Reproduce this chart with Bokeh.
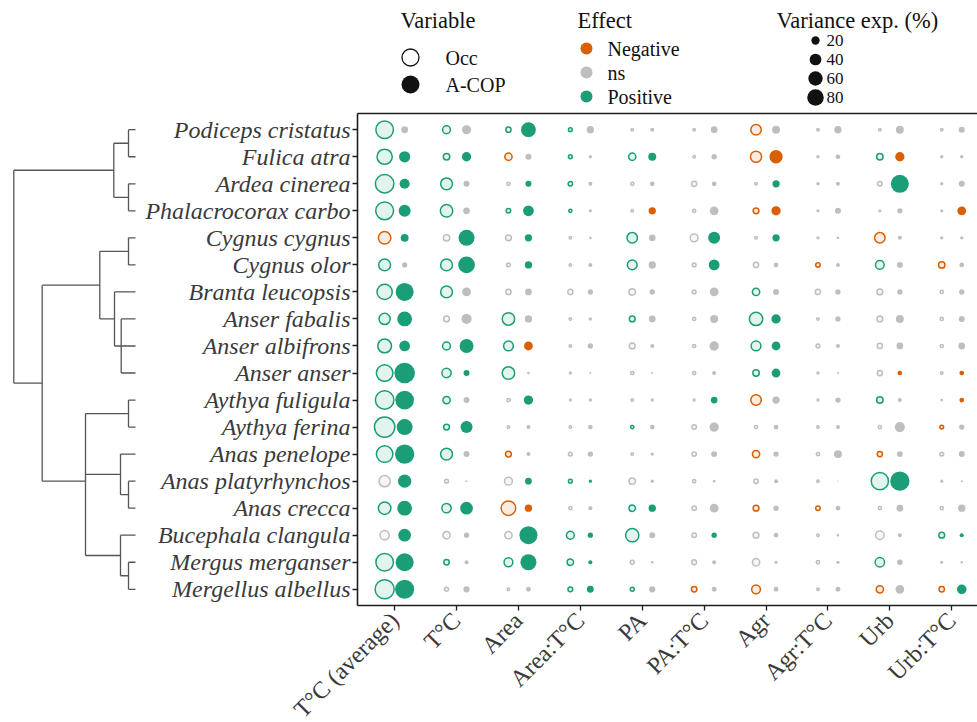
from math import pi, sqrt
from bokeh.plotting import figure
from bokeh.models import ColumnDataSource, Range1d, FixedTicker, LinearAxis
from bokeh.layouts import column, row
from bokeh.embed import file_html
from bokeh.resources import INLINE
from bokeh.core.properties import value

# ---------------- data ----------------
species = ["Podiceps cristatus", "Fulica atra", "Ardea cinerea", "Phalacrocorax carbo",
           "Cygnus cygnus", "Cygnus olor", "Branta leucopsis", "Anser fabalis",
           "Anser albifrons", "Anser anser", "Aythya fuligula", "Aythya ferina",
           "Anas penelope", "Anas platyrhynchos", "Anas crecca", "Bucephala clangula",
           "Mergus merganser", "Mergellus albellus"]
variables = ["T°C (average)", "T°C", "Area", "Area:T°C", "PA", "PA:T°C",
             "Agr", "Agr:T°C", "Urb", "Urb:T°C"]

# effect codes per variable: P = Positive, N = Negative, n = ns
occ_effect = ["PPPPnnNnnn", "PPNPPnNnPn", "PPnPnnnnnn", "PPPPnnNnnn", "NnnnPnnnNn",
              "PPnnPnnNPN", "PPnnnnPnnn", "PnPnPnPnnn", "PPPnnnPnnn", "PPPnnnPnnn",
              "PPnnnnNnPn", "PPnnPnnnnN", "PPNnnnNnNn", "nnnPnnnnPn", "PPNnPnNNnn",
              "nnnPPnnnnP", "PPPPnnnnPn", "PnnPPNNnNN"]
acop_effect = ["nnPnnnnnnn", "PPnnPnNnNn", "PnPnnnPnPn", "PnPnNnNnnN", "PPPnnPPnnn",
               "nPPnnPnnnn", "Pnnnnnnnnn", "PnnnnnPnnn", "PPNnnnPnnn", "PPnnnnPnNN",
               "PnPnnPnnnN", "PPnnnnnnnn", "Pnnnnnnnnn", "PnPPnnnnPn", "PPNnPnnnnn",
               "PnPPnPnnnP", "PnPPnnnnnn", "PnnPnnnnnP"]

# variance explained (%), read against the size legend
occ_var = [
    [106, 25.5, 13.2, 8.2, 4.7, 4.7, 42, 4.7, 4.7, 4.7],
    [82, 18.4, 22.6, 8.2, 22.6, 4.7, 47, 3.3, 18.4, 3.3],
    [117, 52, 6.5, 10.5, 6.5, 13.2, 4.7, 3.3, 10.5, 3.3],
    [109, 57, 10.5, 6.5, 4.7, 6.5, 15.6, 3.3, 3.3, 3.3],
    [57, 18.4, 15.6, 4.7, 42, 25.5, 4.7, 3.3, 42, 3.3],
    [52, 52, 8.2, 4.7, 37, 8.2, 13.2, 10.5, 30, 18.4],
    [82, 52, 13.2, 13.2, 18.4, 8.2, 22.6, 13.2, 15.6, 6.5],
    [47, 15.6, 57, 4.7, 15.6, 6.5, 64, 4.7, 15.6, 6.5],
    [68, 25.5, 37, 4.7, 15.6, 6.5, 37, 8.2, 13.2, 6.5],
    [95, 34, 57, 3.3, 6.5, 6.5, 18.4, 3.3, 13.2, 4.7],
    [117, 22.6, 6.5, 3.3, 4.7, 3.3, 42, 3.3, 18.4, 2.1],
    [139, 15.6, 4.7, 4.7, 6.5, 10.5, 6.5, 4.7, 6.5, 8.2],
    [95, 52, 15.6, 8.2, 4.7, 10.5, 22.6, 6.5, 13.2, 8.2],
    [47, 8.2, 25.5, 8.2, 18.4, 6.5, 10.5, 4.7, 102, 3.3],
    [57, 34, 75, 6.5, 18.4, 10.5, 15.6, 10.5, 6.5, 6.5],
    [34, 22.6, 22.6, 25.5, 64, 10.5, 15.6, 4.7, 30, 15.6],
    [106, 14, 31, 18.4, 8.9, 11.6, 22.6, 6.8, 35, 3],
    [124, 8.9, 4.7, 11.6, 8.9, 14, 31, 4.7, 22.6, 14],
]
acop_var = [
    [14, 24, 64, 15.6, 4.7, 13.2, 18.4, 15.6, 18.4, 10.5],
    [37, 25.5, 10.5, 3.3, 18.4, 8.2, 52, 6.5, 25.5, 3.3],
    [30, 10.5, 10.5, 4.7, 6.5, 6.5, 15.6, 4.7, 95, 10.5],
    [42, 13.2, 34, 3.3, 15.6, 22.6, 25.5, 10.5, 8.2, 22.6],
    [18.4, 75, 15.6, 2.1, 13.2, 42, 15.6, 2.1, 4.7, 3.3],
    [8.2, 82, 15.6, 4.7, 15.6, 34, 6.5, 4.7, 10.5, 6.5],
    [95, 22.6, 13.2, 8.2, 8.2, 22.6, 10.5, 8.2, 8.2, 8.2],
    [64, 30, 15.6, 3.3, 13.2, 18.4, 25.5, 8.2, 18.4, 10.5],
    [34, 57, 22.6, 8.2, 4.7, 25.5, 22.6, 4.7, 13.2, 13.2],
    [124, 10.5, 2.1, 1.1, 1.1, 4.7, 22.6, 1.1, 6.5, 6.5],
    [102, 10.5, 25.5, 3.3, 3.3, 13.2, 15.6, 8.2, 4.7, 6.5],
    [75, 42, 4.7, 6.5, 6.5, 25.5, 6.5, 4.7, 30, 8.2],
    [109, 10.5, 4.7, 8.2, 3.3, 10.5, 8.2, 18.4, 10.5, 10.5],
    [52, 1.1, 13.2, 3.3, 3.3, 2.1, 4.7, 0.4, 109, 1.1],
    [64, 47, 15.6, 4.7, 15.6, 22.6, 8.2, 6.5, 13.2, 15.6],
    [47, 8.2, 95, 8.2, 10.5, 8.2, 6.5, 2.1, 4.7, 4.7],
    [95, 4.7, 75, 4.7, 1.7, 4.7, 3, 3, 8.9, 1.7],
    [106, 11.6, 6.8, 14, 11.6, 6.8, 6.8, 6.8, 22.6, 27],
]

# dendrogram: [height, children]; leaves are species names
tree = [121.7, [
    [21.7, [[7, ["Podiceps cristatus", "Fulica atra"]],
            [7, ["Ardea cinerea", "Phalacrocorax carbo"]]]],
    [93.3, [
        [35.7, [[7, ["Cygnus cygnus", "Cygnus olor"]],
                [21, ["Branta leucopsis",
                      [14.3, ["Anser fabalis", "Anser albifrons", "Anser anser"]]]]]],
        [50, [[7, ["Aythya fuligula", "Aythya ferina"]],
              [15, ["Anas penelope", [7, ["Anas platyrhynchos", "Anas crecca"]]]],
              [15, ["Bucephala clangula", [7, ["Mergus merganser", "Mergellus albellus"]]]]]]]]]]

legend_sizes = [20, 40, 60, 80]
legend_titles = ["Variable", "Effect", "Variance exp. (%)"]
variable_keys = ["Occ", "A-COP"]

# ---------------- styling ----------------
effect_colors = {"N": "#D95F02", "n": "#BEBEBE", "P": "#1B9E77"}
effect_names = [("N", "Negative"), ("n", "ns"), ("P", "Positive")]
SERIF = "Liberation Serif"
TXT = "#3a3a3a"
SCALE = 1.85     # px diameter per sqrt(%)
OCC_LW = 1.5
DODGE = 0.1616


def diam(v):
    return SCALE * sqrt(v)


# ---------------- main bubble panel ----------------
occ = dict(x=[], y=[], size=[], color=[])
acop = dict(x=[], y=[], size=[], color=[])
for i in range(len(species)):
    for j in range(len(variables)):
        occ["x"].append(j - DODGE)
        occ["y"].append(i)
        occ["size"].append(max(diam(occ_var[i][j]) - OCC_LW, 1.0))
        occ["color"].append(effect_colors[occ_effect[i][j]])
        acop["x"].append(j + DODGE)
        acop["y"].append(i)
        acop["size"].append(diam(acop_var[i][j]))
        acop["color"].append(effect_colors[acop_effect[i][j]])

y_range = Range1d(len(species) - 0.4, -0.6)
p = figure(frame_width=620, frame_height=492,
           x_range=Range1d(-0.6, 9.416), y_range=y_range,
           output_backend="svg", toolbar_location=None,
           min_border_left=219, min_border_right=0, min_border_top=5, min_border_bottom=0)
p.outline_line_color = None
p.grid.visible = False
p.background_fill_color = "white"

p.scatter("x", "y", source=ColumnDataSource(occ), size="size", marker="circle",
          line_color="color", fill_color="color", fill_alpha=0.12, line_width=OCC_LW)
p.scatter("x", "y", source=ColumnDataSource(acop), size="size", marker="circle",
          line_color=None, fill_color="color")

for ax in (p.xaxis[0], p.yaxis[0]):
    ax.axis_line_color = "#1e1e1e"
    ax.axis_line_width = 1.6
    ax.major_tick_line_color = "#1e1e1e"
    ax.major_tick_line_width = 1.3
    ax.major_tick_in = 0
    ax.major_tick_out = 5
    ax.minor_tick_line_color = None
    ax.major_label_text_font = SERIF
    ax.major_label_text_color = TXT

p.xaxis.ticker = FixedTicker(ticks=list(range(len(variables))))
p.xaxis.major_label_overrides = {i: v for i, v in enumerate(variables)}
p.xaxis.major_label_orientation = pi / 4
p.xaxis.major_label_text_font_size = "24px"
p.xaxis.major_label_standoff = 6

p.yaxis.ticker = FixedTicker(ticks=list(range(len(species))))
p.yaxis.major_label_overrides = {i: s for i, s in enumerate(species)}
p.yaxis.major_label_text_font_size = "24px"
p.yaxis.major_label_text_font_style = "italic"
p.yaxis.major_label_standoff = 2


def top_border(color):
    return LinearAxis(ticker=FixedTicker(ticks=[]), axis_line_color=color, axis_line_width=1.6,
                      major_tick_line_color=None, minor_tick_line_color=None,
                      major_tick_in=0, major_tick_out=0, major_label_standoff=0,
                      major_label_text_font_size="0px")


p.add_layout(top_border("#1e1e1e"), "above")

# ---------------- dendrogram ----------------
seg = dict(x0=[], y0=[], x1=[], y1=[])


def add(x0, y0, x1, y1):
    seg["x0"].append(x0)
    seg["y0"].append(y0)
    seg["x1"].append(x1)
    seg["y1"].append(y1)


def walk(node):
    if isinstance(node, str):
        return float(species.index(node)), 0.0
    h, kids = node
    pos = [walk(k) for k in kids]
    ys = [q[0] for q in pos]
    add(h, min(ys), h, max(ys))
    for yk, hk in pos:
        add(h, yk, hk, yk)
    return sum(ys) / len(ys), h


walk(tree)

d = figure(frame_width=138, frame_height=492, x_range=Range1d(135, -3), y_range=y_range,
           output_backend="svg", toolbar_location=None, x_axis_location=None,
           y_axis_location=None, min_border_left=0, min_border_right=0,
           min_border_top=5, min_border_bottom=0)
d.outline_line_color = None
d.grid.visible = False
d.add_layout(top_border(None), "above")
d.segment("x0", "y0", "x1", "y1", source=ColumnDataSource(seg),
          line_color="#555555", line_width=1.3)

# ---------------- legends ----------------
lg = figure(width=977, height=108, x_range=Range1d(0, 977), y_range=Range1d(108, 0),
            output_backend="svg", toolbar_location=None, x_axis_location=None,
            y_axis_location=None, min_border=0)
lg.outline_line_color = None
lg.grid.visible = False

lab_kw = dict(text_font=value(SERIF), text_font_size="20px", text_color="#111111",
              text_baseline="middle", text_align="left")

# Variable legend
lg.scatter(x=[410], y=[57], size=17, marker="circle", line_color="#111111",
           fill_color="white", line_width=1.3)
lg.scatter(x=[410], y=[84], size=18, marker="circle", line_color=None, fill_color="#111111")
lg.text(x=[445, 445], y=[57, 84], text=variable_keys, **lab_kw)

# Effect legend
ey = [48, 72, 96]
lg.scatter(x=[586] * 3, y=ey, size=12, marker="circle", line_color=None,
           fill_color=[effect_colors[k] for k, _ in effect_names])
lg.text(x=[607] * 3, y=ey, text=[n for _, n in effect_names], **lab_kw)

# Size legend
sy = [40, 59, 78, 97]
lg.scatter(x=[815] * 4, y=sy, size=[diam(v) for v in legend_sizes], marker="circle",
           line_color=None, fill_color="#111111")
lg.text(x=[826] * 4, y=sy, text=[str(v) for v in legend_sizes],
        text_font=value(SERIF), text_font_size="17px", text_color="#111111",
        text_baseline="middle", text_align="left")

# legend titles
lg.text(x=[400, 577, 776], y=[20, 20, 20], text=legend_titles,
        text_font=value(SERIF), text_font_size="22.5px", text_color="#111111",
        text_baseline="middle", text_align="left")

layout = column(lg, row(d, p))
open("out.html", "w").write(file_html(layout, INLINE))
